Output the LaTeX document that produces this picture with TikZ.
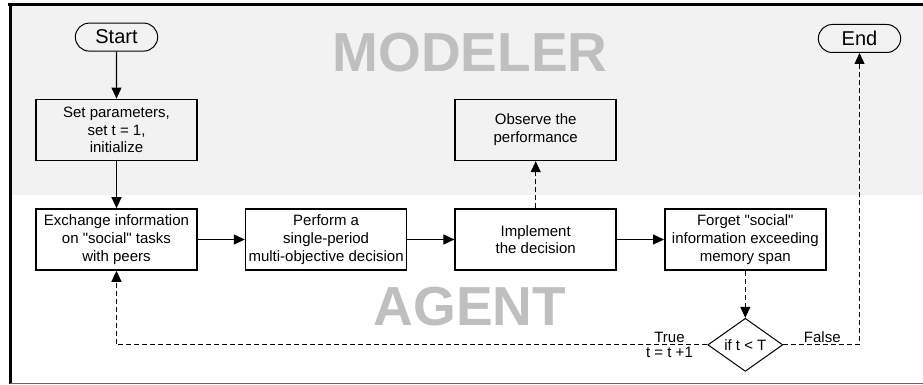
\documentclass[tikz,border=0pt]{standalone}
\usepackage{fontspec}
\setmainfont{Liberation Sans}[Ligatures=TeXOff]
\usetikzlibrary{positioning,arrows.meta,shapes.misc,shapes.geometric}

\definecolor{modelergray}{HTML}{F2F2F2}
\definecolor{rolegray}{HTML}{BFBFBF}

\begin{document}
\begin{tikzpicture}[
x=1pt, y=-1pt,
node distance=47pt,
process/.style={draw, line width=1.6pt, minimum width=161pt, minimum height=61pt, inner sep=1pt, align=center, font=\fontsize{15}{17.7}\selectfont},
terminal/.style={draw, rounded rectangle, line width=1pt, minimum width=89pt, minimum height=28pt, font=\fontsize{20}{24}\selectfont},
decision/.style={draw, diamond, line width=1pt, minimum width=75pt, minimum height=48pt, inner sep=0pt, font=\fontsize{15}{18}\selectfont},
role/.style={text=rolegray, inner sep=0pt, font=\fontsize{55}{60}\selectfont\bfseries},
arrow/.style={-{Triangle[length=11pt,width=10pt]}, line width=1.1pt},
dasharrow/.style={arrow, dash pattern=on 5pt off 3pt},
edgelabel/.style={font=\fontsize{15}{18}\selectfont, inner sep=1.5pt},
]

\useasboundingbox (0,0) rectangle (923,385);

% frame and modeler band
\fill[modelergray] (12,5) rectangle (923,195);
\draw[line width=3pt] (8,4.5) -- (923,4.5);
\draw[line width=3pt] (10.5,3) -- (10.5,384);
\draw[line width=1.2pt, black!60] (10,383.8) -- (923,383.8);

\node[role] (modeler) at (470,52.5) {MODELER};
\node[role] (agent) at (470,306.5) {AGENT};

\node[process] (exchange) at (116.5,239.5) {Exchange information\\on "social" tasks\\with peers};
\node[process] (perform) [right=of exchange] {Perform a\\single-period\\multi-objective decision};
\node[process] (implement) [right=of perform] {Implement\\the decision};
\node[process] (forget) [right=of implement] {Forget "social"\\information exceeding\\memory span};
\node[process] (observe) [above=of implement] {Observe the\\performance};
\node[process] (setup) [above=of exchange] {Set parameters,\\set t = 1,\\initialize};
\node[terminal] (start) [above=of setup] {Start};
\node[decision] (test) [below=of forget] {if t < T};
\node[terminal] (end) at (859.5,38.5) {End};

\draw[arrow] (start) -- (setup);
\draw[arrow] (setup) -- (exchange);
\draw[arrow] (exchange) -- (perform);
\draw[arrow] (perform) -- (implement);
\draw[arrow] (implement) -- (forget);
\draw[dasharrow] (implement) -- (observe);
\draw[dasharrow] (forget) -- (test);
\draw[dasharrow] (test.west) -| node[edgelabel, pos=0.032, above] {True} node[edgelabel, pos=0.032, below] {t = t +1} (exchange.south);
\draw[dasharrow] (test.east) -| node[edgelabel, pos=0.256, above] {False} (end.south);

\end{tikzpicture}
\end{document}
